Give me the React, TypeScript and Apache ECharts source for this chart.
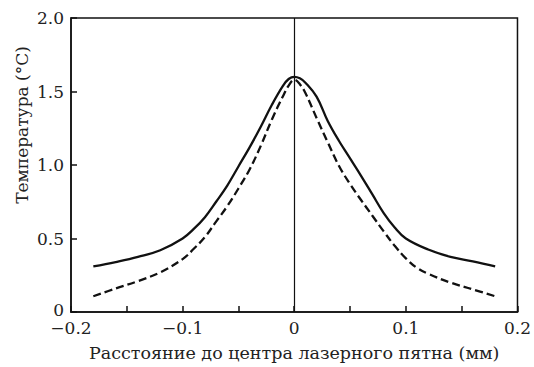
import React, { useEffect, useRef } from "react";
import * as echarts from "echarts";

const solidX = [-0.18, -0.16, -0.14, -0.12, -0.1, -0.09, -0.08, -0.07, -0.06, -0.05, -0.04, -0.03, -0.02, -0.01, -0.005, 0, 0.005, 0.01, 0.02, 0.03, 0.04, 0.05, 0.06, 0.07, 0.08, 0.09, 0.1, 0.12, 0.14, 0.16, 0.18];
const solidY = [0.31, 0.34, 0.375, 0.42, 0.5, 0.565, 0.645, 0.75, 0.86, 0.99, 1.12, 1.26, 1.41, 1.54, 1.585, 1.6, 1.59, 1.56, 1.465, 1.3, 1.165, 1.045, 0.925, 0.8, 0.675, 0.575, 0.5, 0.425, 0.375, 0.345, 0.31];

const dashX = [-0.18, -0.16, -0.14, -0.12, -0.1, -0.09, -0.08, -0.07, -0.06, -0.05, -0.04, -0.03, -0.02, -0.01, -0.005, 0, 0.005, 0.01, 0.02, 0.03, 0.04, 0.05, 0.06, 0.07, 0.08, 0.09, 0.1, 0.11, 0.12, 0.14, 0.16, 0.18];
const dashY = [0.107, 0.16, 0.21, 0.27, 0.36, 0.43, 0.51, 0.615, 0.72, 0.84, 0.97, 1.13, 1.31, 1.47, 1.54, 1.58, 1.55, 1.49, 1.32, 1.155, 0.995, 0.87, 0.76, 0.655, 0.55, 0.45, 0.365, 0.3, 0.26, 0.2, 0.154, 0.107];

const xTitle = "Расстояние до центра лазерного пятна (мм)";
const yTitle = "Температура (°C)";

const FONT = "DejaVu Serif";
const fmt = (v: number, d: number) => {
  if (Math.abs(v) < 1e-9) return "0";
  const s = Math.abs(v).toFixed(d);
  return v < 0 ? "\u2212" + s : s;
};

export default function App() {
  const ref = useRef<HTMLDivElement>(null);
  useEffect(() => {
    if (!ref.current) return;
    const chart = echarts.init(ref.current, undefined, { renderer: "svg" });
    const tickStyle = { color: "#111", width: 1.5 };
    chart.setOption({
      animation: false,
      backgroundColor: "#fff",
      textStyle: { fontFamily: FONT },
      grid: { left: 71, right: 13, top: 18, bottom: 51, show: true, borderColor: "#111", borderWidth: 1.5 },
      xAxis: [
        {
          type: "value",
          min: -0.2,
          max: 0.2,
          interval: 0.1,
          axisLine: { show: true, onZero: false, lineStyle: tickStyle },
          axisTick: { show: true, inside: true, length: 6, lineStyle: tickStyle },
          minorTick: { show: true, splitNumber: 2, length: 6, lineStyle: tickStyle },
          splitLine: { show: false },
          axisLabel: { fontFamily: FONT, fontSize: 17, lineHeight: 14, color: "#222", margin: 9, formatter: (v: number) => fmt(v, 1) },
          name: xTitle,
          nameLocation: "middle",
          nameGap: 32,
          nameTextStyle: { fontFamily: FONT, fontSize: 17.5, color: "#222" },
        },
      ],
      yAxis: [
        {
          type: "value",
          min: 0,
          max: 2,
          interval: 0.5,
          axisLine: { show: true, onZero: false, lineStyle: tickStyle },
          axisTick: { show: true, inside: true, length: 6, lineStyle: tickStyle },
          splitLine: { show: false },
          axisLabel: {
            fontFamily: FONT,
            fontSize: 17,
            lineHeight: 14,
            color: "#222",
            margin: 7,
            formatter: (v: number) => (v === 0 ? "{z|0}" : v.toFixed(1)),
            rich: { z: { fontFamily: FONT, fontSize: 17, lineHeight: 14, color: "#222", padding: [0, 0, 5, 0] } },
          },
        },
      ],
      graphic: [
        {
          type: "text",
          x: 22,
          y: 125,
          rotation: Math.PI / 2,
          style: { text: yTitle, fontFamily: FONT, fontSize: 17, fill: "#222", align: "center", verticalAlign: "middle" },
        },
      ],
      series: [
        {
          type: "line",
          data: solidX.map((x, i) => [x, solidY[i]]),
          smooth: 0.4,
          showSymbol: false,
          lineStyle: { color: "#111", width: 2.3 },
          markLine: {
            silent: true,
            symbol: "none",
            label: { show: false },
            lineStyle: { color: "#111", width: 1.2, type: "solid" },
            data: [{ xAxis: 0 }],
          },
        },
        {
          type: "line",
          data: dashX.map((x, i) => [x, dashY[i]]),
          smooth: 0.4,
          showSymbol: false,
          lineStyle: { color: "#111", width: 2.3, type: [8, 4] },
        },
      ],
    });
    return () => chart.dispose();
  }, []);
  return <div ref={ref} style={{ width: 534, height: 367, position: "absolute", left: 0, top: 0 }} />;
}
